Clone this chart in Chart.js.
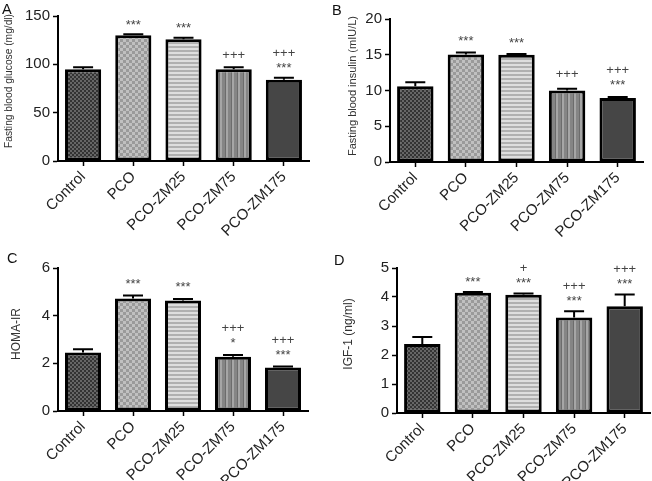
<!DOCTYPE html>
<html><head><meta charset="utf-8">
<script src="https://cdn.jsdelivr.net/npm/chart.js@4"></script>
<style>
html,body{margin:0;padding:0;background:#fff;}
#wrap{position:relative;width:652px;height:481px;overflow:hidden;background:#fff}
canvas{position:absolute}
</style></head><body>
<div id="wrap">
<canvas id="cA" width="326" height="240" style="left:0;top:0"></canvas>
<canvas id="cB" width="322" height="240" style="left:330px;top:0"></canvas>
<canvas id="cC" width="326" height="241" style="left:0;top:240px"></canvas>
<canvas id="cD" width="322" height="241" style="left:330px;top:240px"></canvas>
</div>
<script>
// ---- data ----
const categories = ['Control', 'PCO', 'PCO-ZM25', 'PCO-ZM75', 'PCO-ZM175'];

const glucose    = [95, 130, 126, 95, 84];
const glucoseErr = [2, 1, 1.5, 2, 2];
const glucoseMarks = ['', '***', '***', '+++', '+++\n***'];

const insulin    = [10.6, 15.05, 15.0, 10.0, 8.95];
const insulinErr = [0.55, 0.25, 0.1, 0.25, 0.15];
const insulinMarks = ['', '***', '***', '+++', '+++\n***'];

const homa    = [2.45, 4.72, 4.64, 2.28, 1.82];
const homaErr = [0.14, 0.13, 0.06, 0.07, 0.05];
const homaMarks = ['', '***', '***', '+++\n*', '+++\n***'];

const igf1    = [2.38, 4.15, 4.08, 3.29, 3.68];
const igf1Err = [0.24, 0.02, 0.04, 0.22, 0.41];
const igf1Marks = ['', '***', '+\n***', '+++\n***', '+++\n***'];

// ---- patterns ----
function makePattern(kind){
  const c = document.createElement('canvas');
  const g = c.getContext('2d');
  if (kind === 0){ // dark fine checker
    c.width = 4; c.height = 4;
    g.fillStyle = '#333333'; g.fillRect(0,0,4,4);
    g.fillStyle = '#666666'; g.fillRect(0,0,2,2); g.fillRect(2,2,2,2);
  } else if (kind === 1){ // grey checker
    c.width = 6; c.height = 6;
    g.fillStyle = '#9a9a9a'; g.fillRect(0,0,6,6);
    g.fillStyle = '#c0c0c0'; g.fillRect(0,0,3,3); g.fillRect(3,3,3,3);
  } else if (kind === 2){ // light horizontal stripes
    c.width = 4; c.height = 4;
    g.fillStyle = '#dedede'; g.fillRect(0,0,4,4);
    g.fillStyle = '#b0b0b0'; g.fillRect(0,2,4,2);
  } else if (kind === 3){ // vertical stripes
    c.width = 6; c.height = 6;
    g.fillStyle = '#a6a6a6'; g.fillRect(0,0,6,6);
    g.fillStyle = '#858585'; g.fillRect(0,0,3,6);
    g.fillStyle = '#6c6c6c'; g.fillRect(3,0,1,6);
  } else {
    c.width = 2; c.height = 2;
    g.fillStyle = '#464646'; g.fillRect(0,0,2,2);
  }
  return c;
}

const extras = {
  id: 'extras',
  afterDatasetsDraw(chart, args, opts){
    const ctx = chart.ctx;
    const meta = chart.getDatasetMeta(0);
    const y = chart.scales.y;
    ctx.save();
    meta.data.forEach((bar, i) => {
      const v = opts.values[i], e = opts.errors[i];
      const yv = y.getPixelForValue(v), ye = y.getPixelForValue(v + e);
      ctx.strokeStyle = '#000'; ctx.lineWidth = 2;
      ctx.beginPath();
      ctx.moveTo(bar.x, yv); ctx.lineTo(bar.x, ye);
      ctx.moveTo(bar.x - 10, ye); ctx.lineTo(bar.x + 10, ye);
      ctx.stroke();
      const lines = opts.marks[i] ? opts.marks[i].split('\n') : [];
      ctx.fillStyle = '#444';
      ctx.font = '13px "Liberation Sans", Arial, sans-serif';
      ctx.textAlign = 'center'; ctx.textBaseline = 'alphabetic';
      const n = lines.length;
      lines.forEach((t, k) => {
        const cy = ye - opts.gap - (n - 1 - k) * 12;
        const off = t.indexOf('*') >= 0 ? 7.5 : 4.5;
        ctx.fillText(t, bar.x, cy + off);
      });
    });
    // panel letter
    ctx.fillStyle = '#111';
    ctx.font = '14.5px "Liberation Sans", Arial, sans-serif';
    ctx.textAlign = 'left'; ctx.textBaseline = 'alphabetic';
    ctx.fillText(opts.letter, opts.lx, opts.ly);
    // y-axis title
    ctx.translate(opts.tx, opts.ty);
    ctx.rotate(-Math.PI / 2);
    ctx.fillStyle = '#333';
    ctx.font = opts.tsize + 'px "Liberation Sans", Arial, sans-serif';
    ctx.textAlign = 'center'; ctx.textBaseline = 'middle';
    const w = ctx.measureText(opts.title).width;
    if (opts.tlen && w > opts.tlen) ctx.scale(opts.tlen / w, 1);
    ctx.fillText(opts.title, 0, 0);
    ctx.restore();
  }
};

const panels = [
  {id:'cA', letter:'A', lx:2, ly:13.5, title:'Fasting blood glucose (mg/dl)', tx:9, ty:81, tsize:11.5, tlen:134, gap:13,
   values:glucose, errors:glucoseErr, marks:glucoseMarks, max:150, step:50, area:{left:58, top:16, right:309, bottom:161}},
  {id:'cB', letter:'B', lx:2, ly:15, title:'Fasting blood insulin (mIU/L)', tx:23, ty:86, tsize:11.5, tlen:140, gap:15,
   values:insulin, errors:insulinErr, marks:insulinMarks, max:20, step:5, area:{left:60, top:19, right:313, bottom:162}},
  {id:'cC', letter:'C', lx:7, ly:22.5, title:'HOMA-IR', tx:17, ty:94, tsize:12, tlen:0, gap:15,
   values:homa, errors:homaErr, marks:homaMarks, max:6, step:2, area:{left:58, top:28, right:308, bottom:171}},
  {id:'cD', letter:'D', lx:4, ly:25, title:'IGF-1 (ng/ml)', tx:19, ty:94, tsize:12, tlen:0, gap:14,
   values:igf1, errors:igf1Err, marks:igf1Marks, max:5, step:1, area:{left:67, top:28, right:320, bottom:173}}
];

panels.forEach(p => {
  const cv = document.getElementById(p.id);
  const W = cv.width, H = cv.height;
  const ctx = cv.getContext('2d');
  const fills = categories.map((_, i) => ctx.createPattern(makePattern(i), 'repeat'));
  new Chart(cv, {
    type: 'bar',
    data: {
      labels: categories,
      datasets: [{
        data: p.values,
        backgroundColor: fills,
        borderColor: '#000',
        borderWidth: 3,
        borderSkipped: false,
        barPercentage: 0.72,
        categoryPercentage: 1
      }]
    },
    options: {
      responsive: false,
      devicePixelRatio: 1,
      animation: false,
      layout: {padding: {left: 0, top: p.area.top, right: W - p.area.right, bottom: 0}},
      plugins: {
        legend: {display: false},
        tooltip: {enabled: false},
        extras: {values: p.values, errors: p.errors, marks: p.marks, letter: p.letter, lx: p.lx, ly: p.ly,
                 title: p.title, tx: p.tx, ty: p.ty, tsize: p.tsize, tlen: p.tlen, gap: p.gap}
      },
      scales: {
        x: {
          afterFit: s => { s.height = H - p.area.bottom; },
          grid: {display: true, drawOnChartArea: false, drawTicks: true, tickLength: 5, tickColor: '#000', tickWidth: 1.5, offset: false},
          border: {display: true, color: '#000', width: 2},
          ticks: {color: '#222', font: {family: '"Liberation Sans", Arial, sans-serif', size: 15}, minRotation: 45, maxRotation: 45, autoSkip: false, padding: 2}
        },
        y: {
          min: 0, max: p.max,
          afterFit: s => { s.width = p.area.left; },
          grid: {display: true, drawOnChartArea: false, drawTicks: true, tickLength: 5, tickColor: '#000', tickWidth: 1.5},
          border: {display: true, color: '#000', width: 2},
          ticks: {stepSize: p.step, color: '#222', font: {family: '"Liberation Sans", Arial, sans-serif', size: 15}, padding: 3}
        }
      }
    },
    plugins: [extras]
  });
});
</script>
</body></html>
